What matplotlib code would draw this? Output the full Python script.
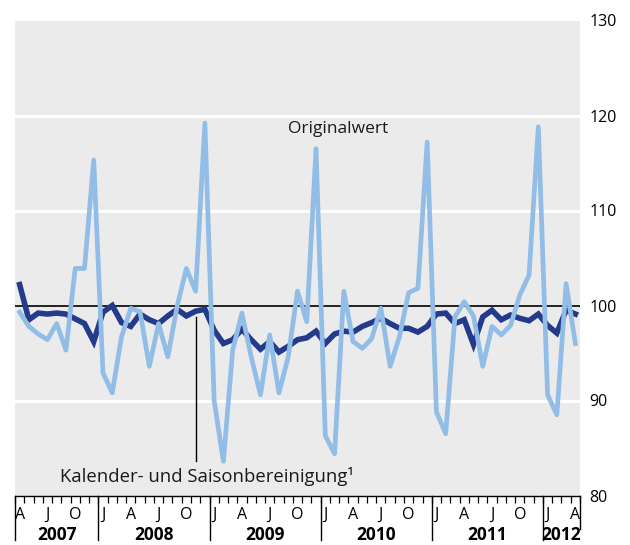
import numpy as np
import matplotlib
matplotlib.use("Agg")
import matplotlib.pyplot as plt
import matplotlib.transforms as mtransforms

# monthly values, April 2007 - April 2012
original = [99.3, 97.8, 97.0, 96.4, 98.1, 95.3, 103.9, 103.9, 115.3,
            92.9, 90.8, 96.7, 99.7, 99.35, 93.6, 98.1, 94.6, 99.9, 103.9, 101.5, 119.2, 90.0, 83.6, 95.3,
            99.2, 94.6, 90.6, 96.9, 90.8, 94.6, 101.5, 98.3, 116.5, 86.3, 84.4, 101.5,
            96.2, 95.5, 96.5, 99.7, 93.6, 96.7, 101.35, 101.8, 117.2, 88.8, 86.5, 98.8,
            100.4, 98.9, 93.6, 97.8, 96.9, 97.9, 101.1, 103.2, 118.8, 90.6, 88.5, 102.3,
            96.0]
bereinigt = [102.2, 98.5, 99.2, 99.1, 99.2, 99.1, 98.6, 98.1, 96.2,
             99.3, 100.0, 98.2, 97.8, 99.1, 98.5, 98.1, 98.9, 99.6, 98.9, 99.4, 99.6, 97.4, 96.0, 96.4,
             97.5, 96.4, 95.4, 96.2, 95.1, 95.7, 96.4, 96.6, 97.3, 96.0, 97.0, 97.3,
             97.2, 97.8, 98.2, 98.65, 98.1, 97.6, 97.6, 97.2, 97.8, 99.1, 99.2, 98.1,
             98.5, 95.9, 98.8, 99.5, 98.5, 99.0, 98.65, 98.4, 99.1, 97.9, 97.1, 99.5,
             99.1]
first_year = 2007
first_month = 4
years = [2007, 2008, 2009, 2010, 2011, 2012]
month_letters = {1: "J", 4: "A", 7: "J", 10: "O"}
y_ticks = [80, 90, 100, 110, 120, 130]
label_original = "Originalwert"
label_bereinigt = "Kalender- und Saisonbereinigung\u00b9"

dark = "#243a8a"
light = "#92bde6"
bg = "#ebebeb"

plt.rcParams['font.family'] = ['Open Sans', 'DejaVu Sans']

n = len(original)
x = np.arange(n)
months = [(first_month - 1 + i) % 12 + 1 for i in range(n)]
year_of = [first_year + (first_month - 1 + i) // 12 for i in range(n)]

fig = plt.figure(figsize=(6.3, 5.45), dpi=100)
ax = fig.add_axes([15 / 630, 1 - 495.5 / 545, 565 / 630, 475 / 545])
ax.set_facecolor(bg)
ax.set_xlim(-0.5, n - 0.5)
ax.set_ylim(80, 130)

# grid + 100 line
for v in y_ticks[1:-1]:
    if v == 100:
        ax.axhline(v, color="black", lw=1.2, zorder=2)
    else:
        ax.axhline(v, color="white", lw=2.2, zorder=1)

ax.plot(x, bereinigt, color=dark, lw=4.0, solid_joinstyle="miter", zorder=3)
ax.plot(x, original, color=light, lw=3.4, solid_joinstyle="round", zorder=4)

# labels
ax.text(34.4, 118.6, label_original, ha="center", va="center", fontsize=12.5, color="#1a1a1a")
ax.plot([19, 19], [bereinigt[19] - 0.6, 83.6], color="black", lw=1, zorder=5)
ax.text(20.2, 82.0, label_bereinigt, ha="center", va="center", fontsize=13.3, color="#1a1a1a")

# y axis on the right
ax.yaxis.tick_right()
ax.set_yticks(y_ticks)
ax.tick_params(axis="y", length=0, pad=7, labelsize=11.5)
for s in ["left", "right", "top"]:
    ax.spines[s].set_visible(False)
ax.spines["bottom"].set_color("black")
ax.spines["bottom"].set_linewidth(1)

# x axis: month ticks and letters
label_pos = [i for i in range(n) if months[i] in month_letters]
ax.set_xticks(label_pos, labels=[month_letters[months[i]] for i in label_pos])
ax.set_xticks(np.arange(n + 1) - 0.5, minor=True)
ax.tick_params(axis="x", which="major", length=0, pad=8, labelsize=11.5)
ax.tick_params(axis="x", which="minor", length=5, width=0.9, direction="out")

# year separators and year labels
trans = mtransforms.blended_transform_factory(ax.transData, ax.transAxes)
px = 1 / 475
bounds = [-0.5] + [i - 0.5 for i in range(n) if months[i] == 1] + [n - 0.5]
for k, b in enumerate(bounds):
    depth = 44 if k < len(bounds) - 1 else 33
    ax.plot([b, b], [0, -depth * px], color="black", lw=1, transform=trans, clip_on=False)
for y in years:
    idx = [i for i in range(n) if year_of[i] == y]
    xc = (idx[0] + idx[-1]) / 2
    ax.text(xc, -40 * px, str(y), ha="center", va="center", fontsize=12.5,
            fontweight="bold", transform=trans)

fig.savefig("out.png", dpi=100)
